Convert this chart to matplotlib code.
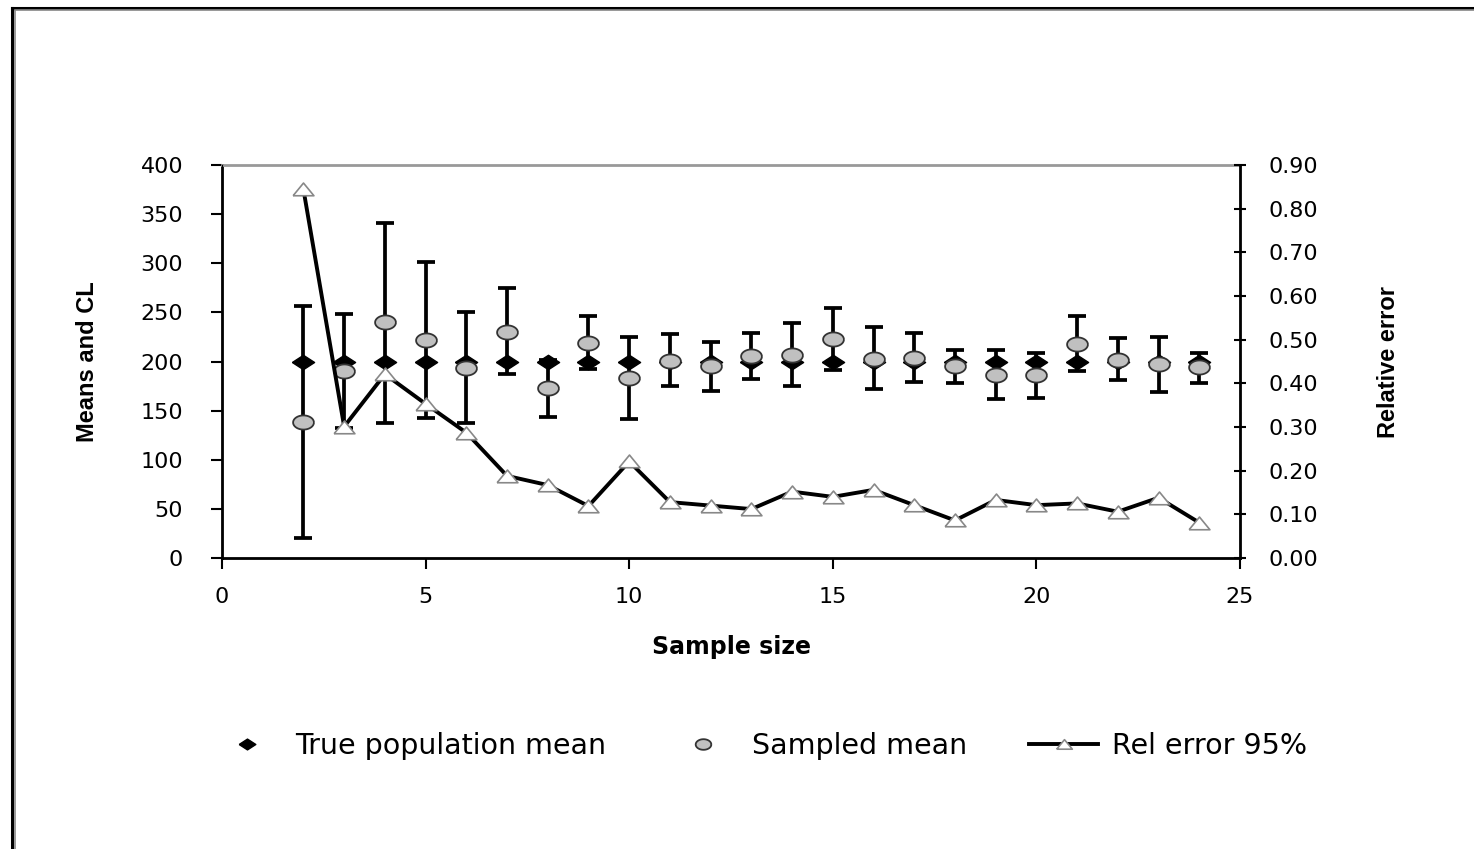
import matplotlib.pyplot as plt
from matplotlib.lines import Line2D
import numpy as np

# values
sample_size = [2, 3, 4, 5, 6, 7, 8, 9, 10, 11, 12, 13, 14, 15, 16, 17, 18, 19, 20, 21, 22, 23, 24]
true_mean = [200, 200, 200, 200, 200, 200, 200, 200, 200, 200, 200, 200,
             200, 200, 200, 200, 200, 200, 200, 200, 200, 200, 200]
sampled_mean = [138, 190, 240, 222, 193, 230, 173, 219, 183, 201, 195, 206,
                207, 223, 203, 204, 195, 186, 186, 218, 202, 197, 194]
cl_upper = [256, 248, 341, 301, 250, 275, 202, 246, 225, 228, 220, 229,
            239, 254, 235, 229, 212, 212, 209, 246, 224, 225, 209]
cl_lower = [20, 132, 137, 142, 137, 187, 144, 192, 141, 175, 170, 182,
            175, 191, 172, 179, 178, 162, 163, 190, 181, 169, 178]
rel_error = [0.844, 0.301, 0.421, 0.353, 0.287, 0.188, 0.167, 0.119, 0.221, 0.128, 0.120, 0.112,
             0.152, 0.140, 0.156, 0.121, 0.086, 0.133, 0.121, 0.125, 0.106, 0.138, 0.081]

left_ticks = [0, 50, 100, 150, 200, 250, 300, 350, 400]
right_ticks = [0.0, 0.1, 0.2, 0.3, 0.4, 0.5, 0.6, 0.7, 0.8, 0.9]
x_ticks = [0, 5, 10, 15, 20, 25]

# marker shapes (the original chart is stretched horizontally)
diamond = [(-1, 0), (0, 0.65), (1, 0), (0, -0.65), (-1, 0)]
theta = np.linspace(0, 2 * np.pi, 40)
ellipse = list(zip(np.cos(theta), 0.68 * np.sin(theta)))
triangle = [(-1, -0.6), (1, -0.6), (0, 0.62), (-1, -0.6)]

narrow = ["Liberation Sans Narrow", "Liberation Sans", "DejaVu Sans"]

fig = plt.figure(figsize=(14.74, 8.49), dpi=100)
ax = fig.add_axes([222 / 1474, 1 - 558 / 849, (1240 - 222) / 1474, (558 - 165) / 849])

s = np.array(sampled_mean)
yerr = [s - np.array(cl_lower), np.array(cl_upper) - s]
ax.errorbar(sample_size, sampled_mean, yerr=yerr, fmt="none", ecolor="black",
            elinewidth=2.7, capsize=6.5, capthick=2.7, zorder=2)
ax.plot(sample_size, true_mean, linestyle="none", marker=diamond, markersize=16,
        color="black", zorder=3, label="True population mean")
ax.plot(sample_size, sampled_mean, linestyle="none", marker=ellipse, markersize=15,
        markerfacecolor="#c0c0c0", markeredgecolor="#333333", markeredgewidth=1.3,
        zorder=4, label="Sampled mean")

ax.set_xlim(0, 25)
ax.set_ylim(0, 400)
ax.set_xticks(x_ticks)
ax.set_yticks(left_ticks)
ax.tick_params(axis="both", labelsize=16, length=8, width=1.5, direction="out", pad=20)
ax.tick_params(axis="x", pad=13)
ax.spines["top"].set_color("#999999")
ax.spines["top"].set_linewidth(2)
for side in ["left", "bottom"]:
    ax.spines[side].set_linewidth(2)
ax.set_ylabel("Means and CL", fontsize=17, fontweight="bold", family=narrow, labelpad=30)
ax.set_xlabel("Sample size", fontsize=17, fontweight="bold", labelpad=20)

ax2 = ax.twinx()
ax2.plot(sample_size, rel_error, color="black", linewidth=2.8, marker=triangle,
         markersize=15, markerfacecolor="white", markeredgecolor="#888888",
         markeredgewidth=1.2, label="Rel error 95%")
ax2.set_ylim(0, 0.9)
ax2.set_yticks(right_ticks)
ax2.set_yticklabels([f"{v:.2f}" for v in right_ticks])
ax2.tick_params(axis="y", labelsize=16, length=9, width=1.5, direction="inout", pad=16)
ax2.spines["right"].set_linewidth(2)
ax2.spines["top"].set_visible(False)
ax2.set_ylabel("Relative error", fontsize=17, fontweight="bold", family=narrow, labelpad=42)

handles = ax.get_lines() + ax2.get_lines()
handles = [h for h in handles if h.get_label() in
           ("True population mean", "Sampled mean", "Rel error 95%")]
fig.legend(handles=handles, loc="center", bbox_to_anchor=(760 / 1474, 1 - 746 / 849),
           ncol=3, frameon=False, fontsize=20.5, handlelength=2.4, markerscale=0.75,
           columnspacing=2.2, handletextpad=0.5)

# outer frame of the original picture (left and top edges only)
fig.add_artist(Line2D([12 / 1474, 12 / 1474], [0, 1 - 8 / 849], color="black", linewidth=2.2))
fig.add_artist(Line2D([14.5 / 1474, 14.5 / 1474], [0, 1 - 10 / 849], color="#888888", linewidth=1.2))
fig.add_artist(Line2D([12 / 1474, 1], [1 - 8 / 849, 1 - 8 / 849], color="black", linewidth=2.2))
fig.add_artist(Line2D([14.5 / 1474, 1], [1 - 10 / 849, 1 - 10 / 849], color="#888888", linewidth=1.2))

plt.savefig("out.png", dpi=100)
